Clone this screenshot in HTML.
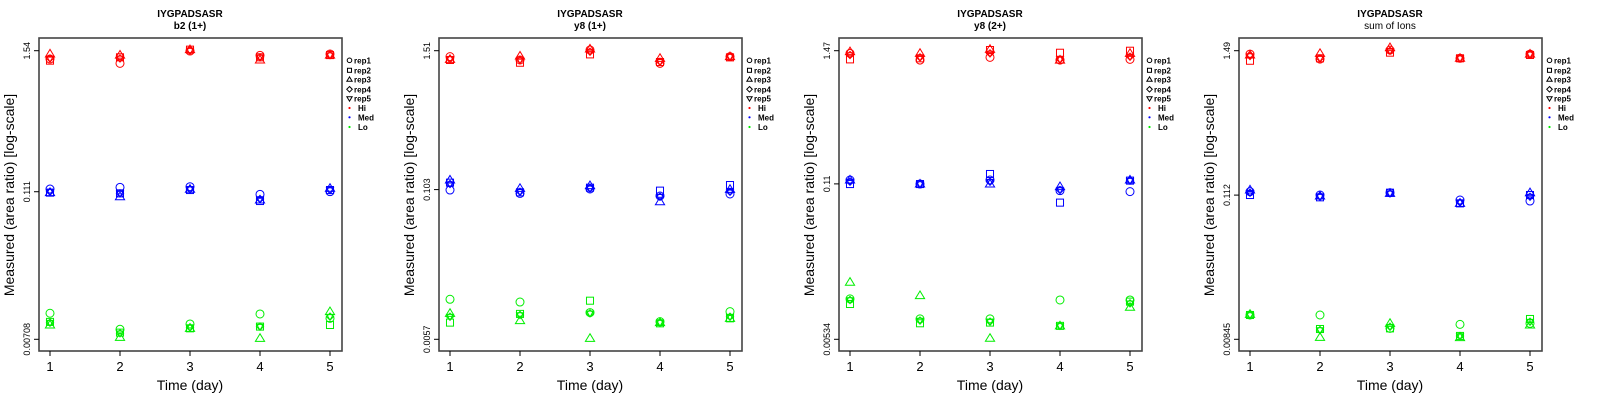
<!DOCTYPE html>
<html><head><meta charset="utf-8"><style>
html,body{margin:0;padding:0;background:#fff;}
svg{display:block;font-family:"Liberation Sans",sans-serif;}
</style></head><body>
<svg id="chart" width="1600" height="400" viewBox="0 0 1600 400"></svg>
<script>
// ---- data (log10 of measured area ratio), rows = days 1..5, cols = rep1..rep5
const days = [1, 2, 3, 4, 5];
const repNames = ["rep1", "rep2", "rep3", "rep4", "rep5"];
const groupNames = ["Hi", "Med", "Lo"];
const panelTitles = ["b2 (1+)", "y8 (1+)", "y8 (2+)", "sum of Ions"];
const tickLabels = [["1.54", "0.111", "0.00708"], ["1.51", "0.103", "0.0057"], ["1.47", "0.11", "0.00534"], ["1.49", "0.112", "0.00845"]];
const tickValues = [[1.54, 0.111, 0.00708], [1.51, 0.103, 0.0057], [1.47, 0.11, 0.00534], [1.49, 0.112, 0.00845]];

const p1Hi = [[0.120,0.107,0.161,0.125,0.125],[0.085,0.134,0.152,0.125,0.125],[0.185,0.196,0.196,0.188,0.188],[0.150,0.134,0.112,0.134,0.134],[0.161,0.152,0.152,0.152,0.152]];
const p1Med = [[-0.933,-0.962,-0.962,-0.954,-0.954],[-0.919,-0.968,-0.995,-0.968,-0.968],[-0.914,-0.941,-0.935,-0.935,-0.935],[-0.976,-1.030,-1.022,-1.014,-1.014],[-0.954,-0.941,-0.927,-0.941,-0.941]];
const p1Lo = [[-1.939,-2.009,-2.034,-2.015,-2.015],[-2.069,-2.096,-2.134,-2.101,-2.101],[-2.026,-2.061,-2.061,-2.053,-2.053],[-1.945,-2.047,-2.142,-2.047,-2.047],[-1.980,-2.034,-1.926,-1.966,-1.966]];

const p2Hi = [[0.129,0.101,0.106,0.109,0.109],[0.101,0.078,0.134,0.101,0.101],[0.185,0.148,0.193,0.171,0.171],[0.073,0.084,0.115,0.087,0.087],[0.129,0.123,0.129,0.129,0.129]];
const p2Med = [[-0.991,-0.929,-0.907,-0.940,-0.940],[-1.019,-1.010,-0.977,-1.005,-1.005],[-0.982,-0.971,-0.954,-0.977,-0.977],[-1.041,-0.996,-1.089,-1.047,-1.047],[-1.024,-0.949,-0.985,-1.005,-1.005]];
const p2Lo = [[-1.908,-2.104,-2.026,-2.054,-2.054],[-1.931,-2.031,-2.087,-2.040,-2.040],[-2.020,-1.920,-2.236,-2.026,-2.026],[-2.096,-2.110,-2.104,-2.104,-2.104],[-2.012,-2.068,-2.068,-2.054,-2.054]];

const p3Hi = [[0.145,0.094,0.159,0.131,0.131],[0.088,0.103,0.145,0.111,0.111],[0.111,0.173,0.179,0.145,0.145],[0.088,0.150,0.088,0.094,0.094],[0.094,0.167,0.145,0.117,0.117]];
const p3Med = [[-0.926,-0.960,-0.926,-0.940,-0.940],[-0.960,-0.960,-0.960,-0.960,-0.960],[-0.926,-0.875,-0.960,-0.940,-0.940],[-1.016,-1.117,-0.982,-1.010,-1.010],[-1.024,-0.931,-0.926,-0.931,-0.931]];
const p3Lo = [[-1.931,-1.974,-1.790,-1.940,-1.940],[-2.100,-2.137,-1.903,-2.114,-2.114],[-2.100,-2.131,-2.264,-2.123,-2.123],[-1.940,-2.159,-2.159,-2.159,-2.159],[-1.940,-1.954,-2.002,-1.968,-1.968]];

const p4Hi = [[0.147,0.095,0.140,0.132,0.132],[0.108,0.114,0.152,0.114,0.114],[0.178,0.158,0.197,0.173,0.173],[0.114,0.114,0.114,0.114,0.114],[0.147,0.140,0.147,0.145,0.145]];
const p4Med = [[-0.924,-0.950,-0.911,-0.932,-0.932],[-0.950,-0.968,-0.958,-0.963,-0.963],[-0.932,-0.932,-0.937,-0.937,-0.937],[-0.989,-1.015,-1.015,-1.007,-1.007],[-0.997,-0.950,-0.932,-0.963,-0.963]];
const p4Lo = [[-1.884,-1.884,-1.879,-1.884,-1.884],[-1.884,-1.993,-2.058,-2.001,-2.001],[-1.988,-1.988,-1.949,-1.975,-1.975],[-1.957,-2.047,-2.060,-2.047,-2.047],[-1.949,-1.915,-1.962,-1.936,-1.936]];

const panelData = [[p1Hi,p1Med,p1Lo],[p2Hi,p2Med,p2Lo],[p3Hi,p3Med,p3Lo],[p4Hi,p4Med,p4Lo]];
const groupColors = ["#ff0000", "#0000ff", "#00ee00"];

const NS = "http://www.w3.org/2000/svg";
const svg = document.getElementById("chart");
function mk(tag, attrs, parent) {
  const e = document.createElementNS(NS, tag);
  for (const k in attrs) e.setAttribute(k, attrs[k]);
  (parent || svg).appendChild(e);
  return e;
}
function marker(shape, cx, cy, s, color, parent) {
  let e;
  if (shape === 0) e = mk("circle", {cx: cx, cy: cy, r: s, fill: "none", stroke: color, "stroke-width": 1}, parent);
  else if (shape === 1) e = mk("rect", {x: cx - s*0.88, y: cy - s*0.88, width: s*1.76, height: s*1.76, fill: "none", stroke: color, "stroke-width": 1}, parent);
  else if (shape === 2) e = mk("polygon", {points: `${cx},${cy-s*1.15} ${cx-s*1.15},${cy+s*0.75} ${cx+s*1.15},${cy+s*0.75}`, fill: "none", stroke: color, "stroke-width": 1}, parent);
  else if (shape === 3) e = mk("polygon", {points: `${cx},${cy-s*1.2} ${cx+s*1.2},${cy} ${cx},${cy+s*1.2} ${cx-s*1.2},${cy}`, fill: "none", stroke: color, "stroke-width": 1}, parent);
  else e = mk("polygon", {points: `${cx},${cy+s*1.15} ${cx-s*1.15},${cy-s*0.75} ${cx+s*1.15},${cy-s*0.75}`, fill: "none", stroke: color, "stroke-width": 1}, parent);
  return e;
}

panelData.forEach((groups, p) => {
  const ox = p * 400;
  const g = mk("g", {transform: `translate(${ox},0)`});
  
  
  const L0 = 39, R0 = 342, T0 = 38, B0 = 351;
  const yTop = 50.7, yBot = 339.3;
  const lt = Math.log10(tickValues[p][0]), lb = Math.log10(tickValues[p][2]);
  const yScale = v => yTop + (lt - v) / (lt - lb) * (yBot - yTop);
  const xScale = d => 50 + (d - 1) * 70;

  let t = mk("text", {x: 190, y: 17, "text-anchor": "middle", "font-size": 10, "font-weight": "bold"}, g);
  t.textContent = "IYGPADSASR";
  
  
  t = mk("text", {x: 190, y: 29, "text-anchor": "middle", "font-size": 10, "font-weight": p === 3 ? "normal" : "bold"}, g);
  t.textContent = panelTitles[p];
  
  

  const box = mk("rect", {x: L0, y: T0, width: R0 - L0, height: B0 - T0, fill: "none", stroke: "#444", "stroke-width": 1.6}, g);
  
  

  tickValues[p].forEach((v, i) => {
    const y = yScale(Math.log10(v));
    const tk = mk("line", {x1: L0, x2: L0 - 5, y1: y, y2: y, stroke: "#000", "stroke-width": 1}, g);
    
    
    const lab = mk("text", {x: 0, y: 0, transform: `translate(30,${y}) rotate(-90)`, "text-anchor": "middle", "font-size": 9}, g);
    lab.textContent = tickLabels[p][i];
    
    
  });
  days.forEach(d => {
    const x = xScale(d);
    const tk = mk("line", {x1: x, x2: x, y1: B0, y2: B0 + 5, stroke: "#000", "stroke-width": 1}, g);
    
    
    const lab = mk("text", {x: x, y: 371, "text-anchor": "middle", "font-size": 13}, g);
    lab.textContent = d;
    
    
  });
  t = mk("text", {x: 190, y: 390, "text-anchor": "middle", "font-size": 14}, g);
  t.textContent = "Time (day)";
  
  
  t = mk("text", {x: 0, y: 0, transform: "translate(14,195) rotate(-90)", "text-anchor": "middle", "font-size": 14}, g);
  t.textContent = "Measured (area ratio) [log-scale]";
  
  

  groups.forEach((grp, gi) => {
    grp.forEach((reps, di) => {
      reps.forEach((v, ri) => {
        const m = marker(ri, xScale(days[di]), yScale(v), ri >= 3 ? 3 : 4, groupColors[gi], g);
        
        
      });
    });
  });

  const leg = mk("g", {}, g);
  
  
  const rows = [60.3, 70.3, 79.5, 89.3, 98.5, 108, 117.3, 127];
  repNames.forEach((r, i) => {
    const m = marker(i, 349.5, rows[i], 2.3, "#000", leg);
    
    
    const tx = mk("text", {x: 354, y: rows[i] + 3, "font-size": 8, "font-weight": "bold"}, leg);
    tx.textContent = r;
    
    
  });
  groupNames.forEach((n, i) => {
    const y = rows[5 + i];
    const c = mk("circle", {cx: 349.5, cy: y, r: 1.1, fill: groupColors[i]}, leg);
    
    
    const tx = mk("text", {x: 358, y: y + 3, "font-size": 8, "font-weight": "bold"}, leg);
    tx.textContent = n;
    
    
  });
});
</script>
</body></html>
